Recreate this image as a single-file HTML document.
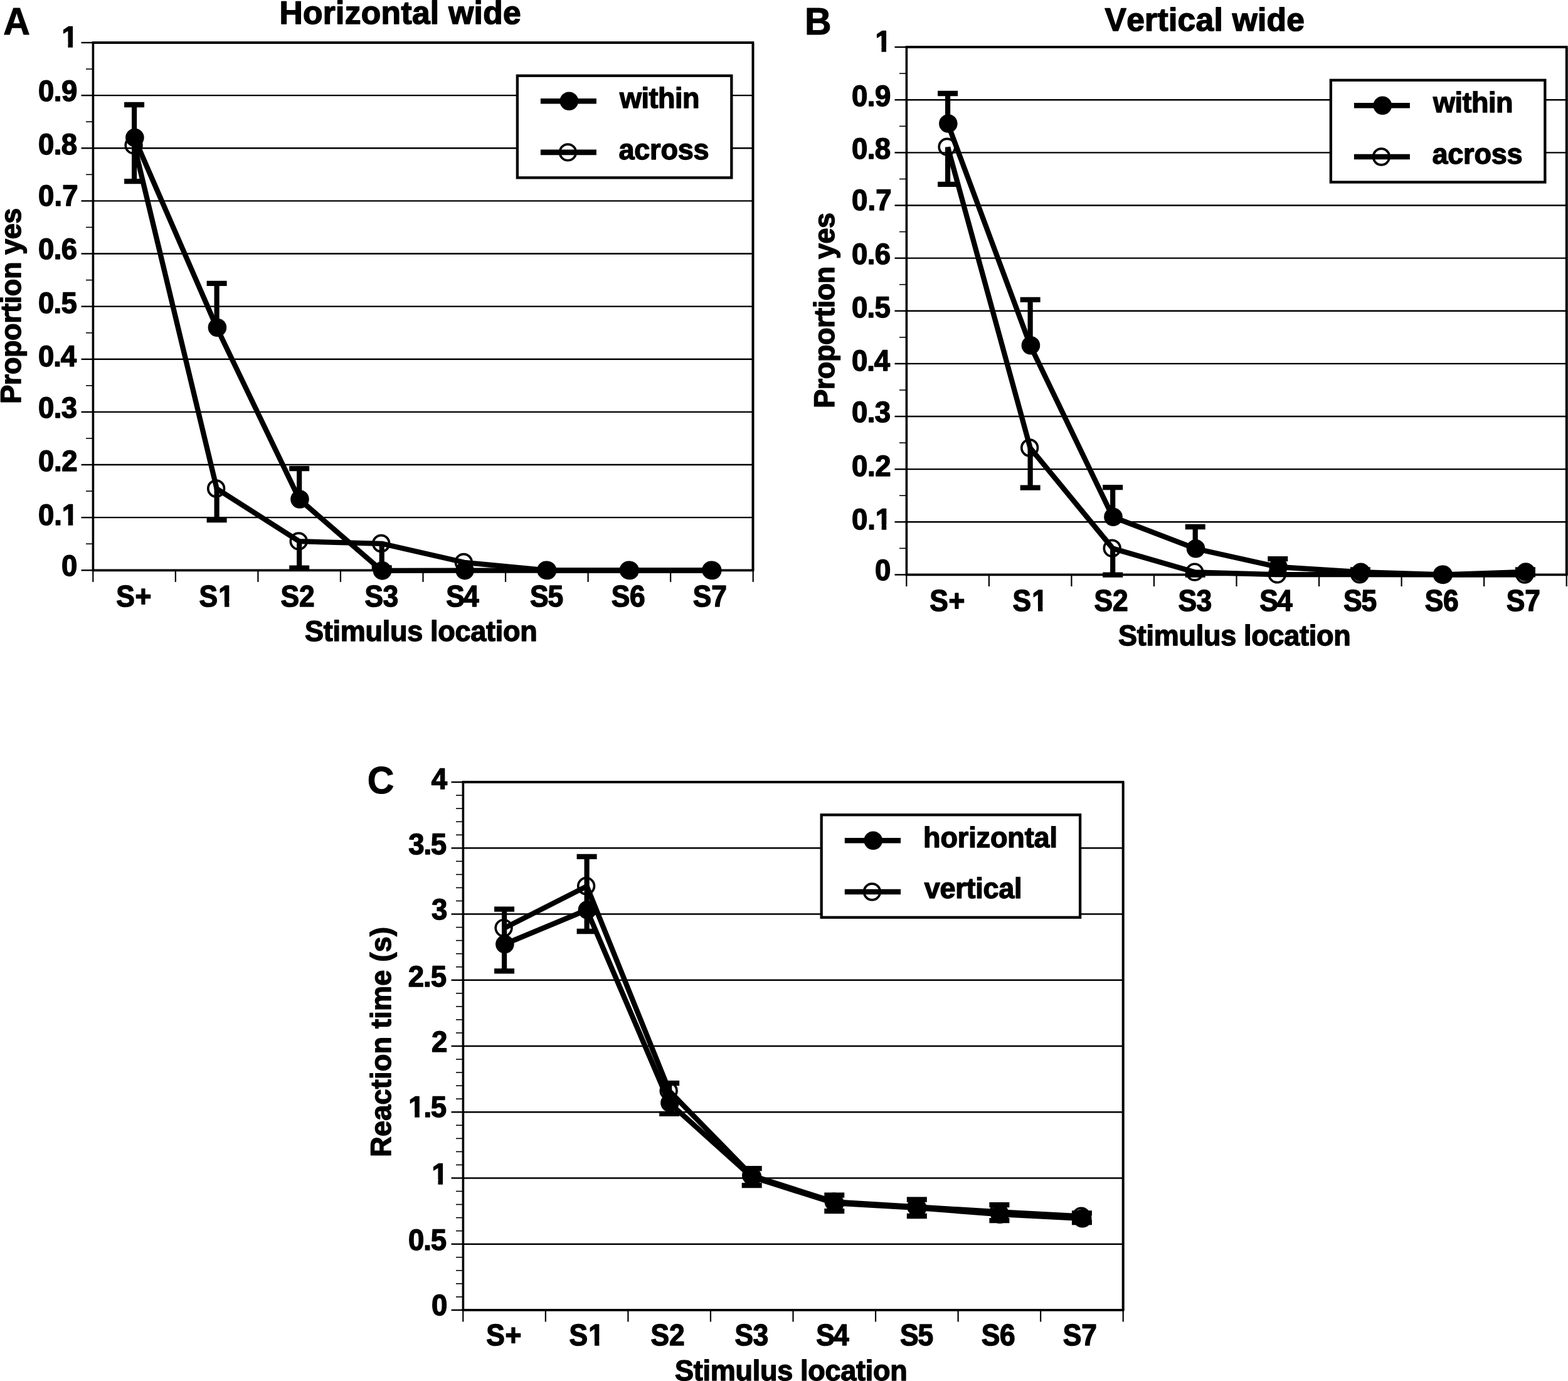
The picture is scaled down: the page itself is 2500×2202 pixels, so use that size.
<!DOCTYPE html>
<html lang="en">
<head>
<meta charset="utf-8">
<title>Figure</title>
<style>
html,body{margin:0;padding:0;background:#fff;}
body{width:2500px;height:2202px;overflow:hidden;}
svg{display:block;}
svg text{font-family:"Liberation Sans", "DejaVu Sans", sans-serif;font-weight:bold;fill:#000;stroke:#000;stroke-linejoin:round;font-kerning:none;text-rendering:geometricPrecision;white-space:pre;}
svg .k{stroke:#000;}
</style>
</head>
<body>
<svg width="2500" height="2202" viewBox="0 0 2500 2202">
<defs>
<clipPath id="c1"><path clip-rule="evenodd" d="M-20,-54.6H45.3V22.8H-20ZM1.17,-7.34H9.97V2.40H1.17ZM17.51,-7.34H25.74V2.40H17.51Z"/></clipPath>
<clipPath id="c2"><path clip-rule="evenodd" d="M-20,-54.6H83.1V22.8H-20ZM39.00,-7.34H47.81V2.40H39.00ZM55.35,-7.34H63.58V2.40H55.35Z"/></clipPath>
<clipPath id="c3"><path clip-rule="evenodd" d="M-20,-53.2H76.4V22.1H-20ZM31.75,-7.22H40.35V2.40H31.75ZM47.73,-7.22H55.76V2.40H47.73Z"/></clipPath>
<clipPath id="c4"><path clip-rule="evenodd" d="M-20,-54.6H45.3V22.8H-20ZM1.17,-7.34H9.97V2.40H1.17ZM17.51,-7.34H25.74V2.40H17.51Z"/></clipPath>
<clipPath id="c5"><path clip-rule="evenodd" d="M-20,-54.6H83.1V22.8H-20ZM39.00,-7.34H47.81V2.40H39.00ZM55.35,-7.34H63.58V2.40H55.35Z"/></clipPath>
<clipPath id="c6"><path clip-rule="evenodd" d="M-20,-53.2H76.4V22.1H-20ZM31.75,-7.22H40.35V2.40H31.75ZM47.73,-7.22H55.76V2.40H47.73Z"/></clipPath>
<clipPath id="c7"><path clip-rule="evenodd" d="M-20,-54.6H79.7V22.8H-20ZM1.17,-7.34H9.97V2.40H1.17ZM17.51,-7.34H25.74V2.40H17.51Z"/></clipPath>
<clipPath id="c8"><path clip-rule="evenodd" d="M-20,-54.6H45.3V22.8H-20ZM1.17,-7.34H9.97V2.40H1.17ZM17.51,-7.34H25.74V2.40H17.51Z"/></clipPath>
<clipPath id="c9"><path clip-rule="evenodd" d="M-20,-53.2H76.4V22.1H-20ZM31.75,-7.22H40.35V2.40H31.75ZM47.73,-7.22H55.76V2.40H47.73Z"/></clipPath>
</defs>
<g id="panel-a">
<line class="k" x1="148.40" y1="825.17" x2="1200.50" y2="825.17" stroke-width="2.4"/>
<line class="k" x1="148.40" y1="741.04" x2="1200.50" y2="741.04" stroke-width="2.4"/>
<line class="k" x1="148.40" y1="656.91" x2="1200.50" y2="656.91" stroke-width="2.4"/>
<line class="k" x1="148.40" y1="572.78" x2="1200.50" y2="572.78" stroke-width="2.4"/>
<line class="k" x1="148.40" y1="488.65" x2="1200.50" y2="488.65" stroke-width="2.4"/>
<line class="k" x1="148.40" y1="404.52" x2="1200.50" y2="404.52" stroke-width="2.4"/>
<line class="k" x1="148.40" y1="320.39" x2="1200.50" y2="320.39" stroke-width="2.4"/>
<line class="k" x1="148.40" y1="236.26" x2="1200.50" y2="236.26" stroke-width="2.4"/>
<line class="k" x1="148.40" y1="152.13" x2="1200.50" y2="152.13" stroke-width="2.4"/>
<line class="k" x1="129.50" y1="909.30" x2="148.40" y2="909.30" stroke-width="2.4"/>
<line class="k" x1="129.50" y1="825.17" x2="148.40" y2="825.17" stroke-width="2.4"/>
<line class="k" x1="129.50" y1="741.04" x2="148.40" y2="741.04" stroke-width="2.4"/>
<line class="k" x1="129.50" y1="656.91" x2="148.40" y2="656.91" stroke-width="2.4"/>
<line class="k" x1="129.50" y1="572.78" x2="148.40" y2="572.78" stroke-width="2.4"/>
<line class="k" x1="129.50" y1="488.65" x2="148.40" y2="488.65" stroke-width="2.4"/>
<line class="k" x1="129.50" y1="404.52" x2="148.40" y2="404.52" stroke-width="2.4"/>
<line class="k" x1="129.50" y1="320.39" x2="148.40" y2="320.39" stroke-width="2.4"/>
<line class="k" x1="129.50" y1="236.26" x2="148.40" y2="236.26" stroke-width="2.4"/>
<line class="k" x1="129.50" y1="152.13" x2="148.40" y2="152.13" stroke-width="2.4"/>
<line class="k" x1="129.50" y1="68.00" x2="148.40" y2="68.00" stroke-width="2.4"/>
<line class="k" x1="137.00" y1="867.23" x2="148.40" y2="867.23" stroke-width="1.6"/>
<line class="k" x1="137.00" y1="783.11" x2="148.40" y2="783.11" stroke-width="1.6"/>
<line class="k" x1="137.00" y1="698.97" x2="148.40" y2="698.97" stroke-width="1.6"/>
<line class="k" x1="137.00" y1="614.85" x2="148.40" y2="614.85" stroke-width="1.6"/>
<line class="k" x1="137.00" y1="530.71" x2="148.40" y2="530.71" stroke-width="1.6"/>
<line class="k" x1="137.00" y1="446.58" x2="148.40" y2="446.58" stroke-width="1.6"/>
<line class="k" x1="137.00" y1="362.45" x2="148.40" y2="362.45" stroke-width="1.6"/>
<line class="k" x1="137.00" y1="278.33" x2="148.40" y2="278.33" stroke-width="1.6"/>
<line class="k" x1="137.00" y1="194.19" x2="148.40" y2="194.19" stroke-width="1.6"/>
<line class="k" x1="137.00" y1="110.07" x2="148.40" y2="110.07" stroke-width="1.6"/>
<line class="k" x1="148.30" y1="909.30" x2="148.30" y2="927.90" stroke-width="2.2"/>
<line class="k" x1="279.85" y1="909.30" x2="279.85" y2="927.90" stroke-width="2.2"/>
<line class="k" x1="411.40" y1="909.30" x2="411.40" y2="927.90" stroke-width="2.2"/>
<line class="k" x1="542.95" y1="909.30" x2="542.95" y2="927.90" stroke-width="2.2"/>
<line class="k" x1="674.50" y1="909.30" x2="674.50" y2="927.90" stroke-width="2.2"/>
<line class="k" x1="806.05" y1="909.30" x2="806.05" y2="927.90" stroke-width="2.2"/>
<line class="k" x1="937.60" y1="909.30" x2="937.60" y2="927.90" stroke-width="2.2"/>
<line class="k" x1="1069.15" y1="909.30" x2="1069.15" y2="927.90" stroke-width="2.2"/>
<line class="k" x1="1200.70" y1="909.30" x2="1200.70" y2="927.90" stroke-width="2.2"/>
<line class="k" x1="146.60" y1="68.00" x2="1202.30" y2="68.00" stroke-width="4.0"/>
<line class="k" x1="146.60" y1="909.30" x2="1202.30" y2="909.30" stroke-width="3.8"/>
<line class="k" x1="148.40" y1="68.00" x2="148.40" y2="909.30" stroke-width="3.6"/>
<line class="k" x1="1200.50" y1="69.00" x2="1200.50" y2="909.30" stroke-width="4.0"/>
<rect class="k" x="824.85" y="120.75" width="341.50" height="162.60" fill="#fff" stroke-width="4.3"/>
<line class="k" x1="861.90" y1="161.20" x2="950.90" y2="161.20" stroke-width="8.600000000000001"/>
<circle cx="907.30" cy="161.20" r="14.8" fill="#000"/>
<circle class="k" cx="905.40" cy="242.90" r="12.85" fill="none" stroke-width="3.7"/>
<line class="k" x1="861.90" y1="242.90" x2="950.90" y2="242.90" stroke-width="8.600000000000001"/>
<circle class="k" cx="213.08" cy="231.70" r="12.85" fill="none" stroke-width="3.7"/>
<circle class="k" cx="344.62" cy="779.00" r="12.85" fill="none" stroke-width="3.7"/>
<circle class="k" cx="476.18" cy="862.90" r="12.85" fill="none" stroke-width="3.7"/>
<circle class="k" cx="607.73" cy="866.50" r="12.85" fill="none" stroke-width="3.7"/>
<circle class="k" cx="739.28" cy="896.50" r="12.85" fill="none" stroke-width="3.7"/>
<circle class="k" cx="870.83" cy="909.20" r="12.85" fill="none" stroke-width="3.7"/>
<circle class="k" cx="1002.38" cy="909.20" r="12.85" fill="none" stroke-width="3.7"/>
<circle class="k" cx="1133.93" cy="909.20" r="12.85" fill="none" stroke-width="3.7"/>
<line class="k" x1="214.08" y1="219.50" x2="214.08" y2="167.00" stroke-width="8.2"/>
<line class="k" x1="198.08" y1="167.00" x2="230.08" y2="167.00" stroke-width="8.3"/>
<line class="k" x1="214.08" y1="232.00" x2="214.08" y2="289.10" stroke-width="8.2"/>
<line class="k" x1="198.08" y1="289.10" x2="230.08" y2="289.10" stroke-width="8.3"/>
<line class="k" x1="345.62" y1="522.30" x2="345.62" y2="451.80" stroke-width="8.2"/>
<line class="k" x1="329.62" y1="451.80" x2="361.62" y2="451.80" stroke-width="8.3"/>
<line class="k" x1="345.62" y1="779.30" x2="345.62" y2="829.20" stroke-width="8.2"/>
<line class="k" x1="329.62" y1="829.20" x2="361.62" y2="829.20" stroke-width="8.3"/>
<line class="k" x1="477.18" y1="796.00" x2="477.18" y2="747.10" stroke-width="8.2"/>
<line class="k" x1="461.18" y1="747.10" x2="493.18" y2="747.10" stroke-width="8.3"/>
<line class="k" x1="477.18" y1="863.20" x2="477.18" y2="905.60" stroke-width="8.2"/>
<line class="k" x1="461.18" y1="905.60" x2="493.18" y2="905.60" stroke-width="8.3"/>
<line class="k" x1="608.73" y1="866.80" x2="608.73" y2="905.50" stroke-width="8.2"/>
<line class="k" x1="592.73" y1="905.50" x2="624.73" y2="905.50" stroke-width="8.3"/>
<polyline class="k" points="214.08,232.00 345.62,779.30 477.18,863.20 608.73,866.80 740.28,896.80 871.83,909.50 1003.38,909.50 1134.93,909.50" fill="none" stroke-width="8.3" stroke-linejoin="round"/>
<polyline class="k" points="214.08,219.50 345.62,522.30 477.18,796.00 608.73,909.90 740.28,909.60 871.83,909.50 1003.38,909.50 1134.93,909.50" fill="none" stroke-width="8.3" stroke-linejoin="round"/>
<circle cx="214.88" cy="219.50" r="14.8" fill="#000"/>
<circle cx="346.43" cy="522.30" r="14.8" fill="#000"/>
<circle cx="477.98" cy="796.00" r="14.8" fill="#000"/>
<circle cx="609.53" cy="909.90" r="14.8" fill="#000"/>
<circle cx="741.08" cy="909.60" r="14.8" fill="#000"/>
<circle cx="872.62" cy="909.50" r="14.8" fill="#000"/>
<circle cx="1004.17" cy="909.50" r="14.8" fill="#000"/>
<circle cx="1135.73" cy="909.50" r="14.8" fill="#000"/>
<text transform="translate(98.51,75.28) scale(1,1.035)" font-size="45.5" letter-spacing="0.000" stroke-width="1.4" clip-path="url(#c1)">1</text>
<text transform="translate(60.90,161.48) scale(1,1.035)" font-size="45.5" letter-spacing="-0.382" stroke-width="1.4">0.9</text>
<text transform="translate(60.90,246.38) scale(1,1.035)" font-size="45.5" letter-spacing="-0.526" stroke-width="1.4">0.8</text>
<text transform="translate(60.90,328.08) scale(1,1.035)" font-size="45.5" letter-spacing="0.174" stroke-width="1.4">0.7</text>
<text transform="translate(60.90,413.48) scale(1,1.035)" font-size="45.5" letter-spacing="-0.504" stroke-width="1.4">0.6</text>
<text transform="translate(60.90,498.78) scale(1,1.035)" font-size="45.5" letter-spacing="-0.693" stroke-width="1.4">0.5</text>
<text transform="translate(60.90,584.08) scale(1,1.035)" font-size="45.5" letter-spacing="-1.004" stroke-width="1.4">0.4</text>
<text transform="translate(60.90,666.08) scale(1,1.035)" font-size="45.5" letter-spacing="-0.504" stroke-width="1.4">0.3</text>
<text transform="translate(60.90,751.48) scale(1,1.035)" font-size="45.5" letter-spacing="-0.315" stroke-width="1.4">0.2</text>
<text transform="translate(60.90,836.78) scale(1,1.035)" font-size="45.5" letter-spacing="-0.055" stroke-width="1.4" clip-path="url(#c2)">0.1</text>
<text transform="translate(98.08,918.38) scale(1,1.035)" font-size="45.5" letter-spacing="0.000" stroke-width="1.4">0</text>
<text transform="translate(185.22,966.64) scale(1,1.08)" font-size="44.3" letter-spacing="0.853" stroke-width="1.4">S+</text>
<text transform="translate(317.62,966.64) scale(1,1.08)" font-size="44.3" letter-spacing="1.111" stroke-width="1.4" clip-path="url(#c3)">S1</text>
<text transform="translate(447.62,966.64) scale(1,1.08)" font-size="44.3" letter-spacing="-0.135" stroke-width="1.4">S2</text>
<text transform="translate(581.42,966.64) scale(1,1.08)" font-size="44.3" letter-spacing="-0.508" stroke-width="1.4">S3</text>
<text transform="translate(711.32,966.64) scale(1,1.08)" font-size="44.3" letter-spacing="-1.771" stroke-width="1.4">S4</text>
<text transform="translate(845.02,966.64) scale(1,1.08)" font-size="44.3" letter-spacing="-1.076" stroke-width="1.4">S5</text>
<text transform="translate(974.82,966.64) scale(1,1.08)" font-size="44.3" letter-spacing="-0.308" stroke-width="1.4">S6</text>
<text transform="translate(1104.72,966.64) scale(1,1.08)" font-size="44.3" letter-spacing="-0.062" stroke-width="1.4">S7</text>
<text transform="translate(987.93,171.69) scale(1,1.02)" font-size="45.0" letter-spacing="-0.502" stroke-width="1.4">within</text>
<text transform="translate(986.48,253.79) scale(1,1.02)" font-size="45.0" letter-spacing="-0.209" stroke-width="1.4">across</text>
<text transform="translate(486.10,1021.79) scale(1,1.02)" font-size="45.0" letter-spacing="-0.278" stroke-width="1.4">Stimulus location</text>
<text transform="translate(33.29,643.71) rotate(-90) scale(1,1.02)" font-size="45.0" letter-spacing="-0.430" stroke-width="1.4">Proportion yes</text>
<text transform="translate(445.40,37.85)" font-size="51.5" letter-spacing="0.333" stroke-width="1.5">Horizontal wide</text>
<text transform="translate(5.19,54.78) scale(1,1.032)" font-size="59.0" letter-spacing="0.000" stroke-width="1.0">A</text>
</g>
<g id="panel-b">
<line class="k" x1="1445.40" y1="832.27" x2="2497.80" y2="832.27" stroke-width="2.4"/>
<line class="k" x1="1445.40" y1="748.14" x2="2497.80" y2="748.14" stroke-width="2.4"/>
<line class="k" x1="1445.40" y1="664.01" x2="2497.80" y2="664.01" stroke-width="2.4"/>
<line class="k" x1="1445.40" y1="579.88" x2="2497.80" y2="579.88" stroke-width="2.4"/>
<line class="k" x1="1445.40" y1="495.75" x2="2497.80" y2="495.75" stroke-width="2.4"/>
<line class="k" x1="1445.40" y1="411.62" x2="2497.80" y2="411.62" stroke-width="2.4"/>
<line class="k" x1="1445.40" y1="327.49" x2="2497.80" y2="327.49" stroke-width="2.4"/>
<line class="k" x1="1445.40" y1="243.36" x2="2497.80" y2="243.36" stroke-width="2.4"/>
<line class="k" x1="1445.40" y1="159.23" x2="2497.80" y2="159.23" stroke-width="2.4"/>
<line class="k" x1="1426.50" y1="916.40" x2="1445.40" y2="916.40" stroke-width="2.4"/>
<line class="k" x1="1426.50" y1="832.27" x2="1445.40" y2="832.27" stroke-width="2.4"/>
<line class="k" x1="1426.50" y1="748.14" x2="1445.40" y2="748.14" stroke-width="2.4"/>
<line class="k" x1="1426.50" y1="664.01" x2="1445.40" y2="664.01" stroke-width="2.4"/>
<line class="k" x1="1426.50" y1="579.88" x2="1445.40" y2="579.88" stroke-width="2.4"/>
<line class="k" x1="1426.50" y1="495.75" x2="1445.40" y2="495.75" stroke-width="2.4"/>
<line class="k" x1="1426.50" y1="411.62" x2="1445.40" y2="411.62" stroke-width="2.4"/>
<line class="k" x1="1426.50" y1="327.49" x2="1445.40" y2="327.49" stroke-width="2.4"/>
<line class="k" x1="1426.50" y1="243.36" x2="1445.40" y2="243.36" stroke-width="2.4"/>
<line class="k" x1="1426.50" y1="159.23" x2="1445.40" y2="159.23" stroke-width="2.4"/>
<line class="k" x1="1426.50" y1="75.10" x2="1445.40" y2="75.10" stroke-width="2.4"/>
<line class="k" x1="1434.00" y1="874.34" x2="1445.40" y2="874.34" stroke-width="1.6"/>
<line class="k" x1="1434.00" y1="790.20" x2="1445.40" y2="790.20" stroke-width="1.6"/>
<line class="k" x1="1434.00" y1="706.08" x2="1445.40" y2="706.08" stroke-width="1.6"/>
<line class="k" x1="1434.00" y1="621.94" x2="1445.40" y2="621.94" stroke-width="1.6"/>
<line class="k" x1="1434.00" y1="537.82" x2="1445.40" y2="537.82" stroke-width="1.6"/>
<line class="k" x1="1434.00" y1="453.69" x2="1445.40" y2="453.69" stroke-width="1.6"/>
<line class="k" x1="1434.00" y1="369.55" x2="1445.40" y2="369.55" stroke-width="1.6"/>
<line class="k" x1="1434.00" y1="285.43" x2="1445.40" y2="285.43" stroke-width="1.6"/>
<line class="k" x1="1434.00" y1="201.29" x2="1445.40" y2="201.29" stroke-width="1.6"/>
<line class="k" x1="1434.00" y1="117.17" x2="1445.40" y2="117.17" stroke-width="1.6"/>
<line class="k" x1="1445.30" y1="916.40" x2="1445.30" y2="935.00" stroke-width="2.2"/>
<line class="k" x1="1576.85" y1="916.40" x2="1576.85" y2="935.00" stroke-width="2.2"/>
<line class="k" x1="1708.40" y1="916.40" x2="1708.40" y2="935.00" stroke-width="2.2"/>
<line class="k" x1="1839.95" y1="916.40" x2="1839.95" y2="935.00" stroke-width="2.2"/>
<line class="k" x1="1971.50" y1="916.40" x2="1971.50" y2="935.00" stroke-width="2.2"/>
<line class="k" x1="2103.05" y1="916.40" x2="2103.05" y2="935.00" stroke-width="2.2"/>
<line class="k" x1="2234.60" y1="916.40" x2="2234.60" y2="935.00" stroke-width="2.2"/>
<line class="k" x1="2366.15" y1="916.40" x2="2366.15" y2="935.00" stroke-width="2.2"/>
<line class="k" x1="2497.70" y1="916.40" x2="2497.70" y2="935.00" stroke-width="2.2"/>
<line class="k" x1="1443.60" y1="75.10" x2="2499.60" y2="75.10" stroke-width="4.0"/>
<line class="k" x1="1443.60" y1="916.40" x2="2499.60" y2="916.40" stroke-width="3.8"/>
<line class="k" x1="1445.40" y1="75.10" x2="1445.40" y2="916.40" stroke-width="3.6"/>
<line class="k" x1="2497.80" y1="76.10" x2="2497.80" y2="916.40" stroke-width="4.0"/>
<rect class="k" x="2121.85" y="127.85" width="341.50" height="162.60" fill="#fff" stroke-width="4.3"/>
<line class="k" x1="2158.90" y1="168.30" x2="2247.90" y2="168.30" stroke-width="8.600000000000001"/>
<circle cx="2204.30" cy="168.30" r="14.8" fill="#000"/>
<circle class="k" cx="2202.40" cy="250.00" r="12.85" fill="none" stroke-width="3.7"/>
<line class="k" x1="2158.90" y1="250.00" x2="2247.90" y2="250.00" stroke-width="8.600000000000001"/>
<circle class="k" cx="1510.08" cy="234.20" r="12.85" fill="none" stroke-width="3.7"/>
<circle class="k" cx="1641.63" cy="714.00" r="12.85" fill="none" stroke-width="3.7"/>
<circle class="k" cx="1773.18" cy="874.20" r="12.85" fill="none" stroke-width="3.7"/>
<circle class="k" cx="1904.73" cy="912.10" r="12.85" fill="none" stroke-width="3.7"/>
<circle class="k" cx="2036.28" cy="915.90" r="12.85" fill="none" stroke-width="3.7"/>
<circle class="k" cx="2167.83" cy="915.90" r="12.85" fill="none" stroke-width="3.7"/>
<circle class="k" cx="2299.38" cy="916.20" r="12.85" fill="none" stroke-width="3.7"/>
<circle class="k" cx="2430.93" cy="916.00" r="12.85" fill="none" stroke-width="3.7"/>
<line class="k" x1="1511.08" y1="197.00" x2="1511.08" y2="149.00" stroke-width="8.2"/>
<line class="k" x1="1495.08" y1="149.00" x2="1527.08" y2="149.00" stroke-width="8.3"/>
<line class="k" x1="1511.08" y1="234.50" x2="1511.08" y2="293.80" stroke-width="8.2"/>
<line class="k" x1="1495.08" y1="293.80" x2="1527.08" y2="293.80" stroke-width="8.3"/>
<line class="k" x1="1642.63" y1="550.70" x2="1642.63" y2="477.90" stroke-width="8.2"/>
<line class="k" x1="1626.63" y1="477.90" x2="1658.63" y2="477.90" stroke-width="8.3"/>
<line class="k" x1="1642.63" y1="714.30" x2="1642.63" y2="777.70" stroke-width="8.2"/>
<line class="k" x1="1626.63" y1="777.70" x2="1658.63" y2="777.70" stroke-width="8.3"/>
<line class="k" x1="1774.18" y1="824.30" x2="1774.18" y2="777.10" stroke-width="8.2"/>
<line class="k" x1="1758.18" y1="777.10" x2="1790.18" y2="777.10" stroke-width="8.3"/>
<line class="k" x1="1774.18" y1="874.50" x2="1774.18" y2="916.60" stroke-width="8.2"/>
<line class="k" x1="1758.18" y1="916.60" x2="1790.18" y2="916.60" stroke-width="8.3"/>
<line class="k" x1="1905.73" y1="874.70" x2="1905.73" y2="840.00" stroke-width="8.2"/>
<line class="k" x1="1889.73" y1="840.00" x2="1921.73" y2="840.00" stroke-width="8.3"/>
<line class="k" x1="1905.73" y1="912.40" x2="1905.73" y2="916.50" stroke-width="8.2"/>
<line class="k" x1="1889.73" y1="916.50" x2="1921.73" y2="916.50" stroke-width="8.3"/>
<line class="k" x1="2037.28" y1="904.00" x2="2037.28" y2="891.20" stroke-width="8.2"/>
<line class="k" x1="2021.28" y1="891.20" x2="2053.28" y2="891.20" stroke-width="8.3"/>
<line class="k" x1="2168.83" y1="912.20" x2="2168.83" y2="908.50" stroke-width="8.2"/>
<line class="k" x1="2152.83" y1="908.50" x2="2184.83" y2="908.50" stroke-width="8.3"/>
<line class="k" x1="2431.93" y1="912.00" x2="2431.93" y2="908.50" stroke-width="8.2"/>
<line class="k" x1="2415.93" y1="908.50" x2="2447.93" y2="908.50" stroke-width="8.3"/>
<line class="k" x1="2431.93" y1="916.30" x2="2431.93" y2="916.40" stroke-width="8.2"/>
<line class="k" x1="2415.93" y1="916.40" x2="2447.93" y2="916.40" stroke-width="8.3"/>
<polyline class="k" points="1511.08,234.50 1642.63,714.30 1774.18,874.50 1905.73,912.40 2037.28,916.20 2168.83,916.20 2300.38,916.50 2431.93,916.30" fill="none" stroke-width="8.3" stroke-linejoin="round"/>
<polyline class="k" points="1511.08,197.00 1642.63,550.70 1774.18,824.30 1905.73,874.70 2037.28,904.00 2168.83,912.20 2300.38,916.40 2431.93,912.00" fill="none" stroke-width="8.3" stroke-linejoin="round"/>
<circle cx="1511.88" cy="197.00" r="14.8" fill="#000"/>
<circle cx="1643.43" cy="550.70" r="14.8" fill="#000"/>
<circle cx="1774.98" cy="824.30" r="14.8" fill="#000"/>
<circle cx="1906.53" cy="874.70" r="14.8" fill="#000"/>
<circle cx="2038.08" cy="904.00" r="14.8" fill="#000"/>
<circle cx="2169.63" cy="912.20" r="14.8" fill="#000"/>
<circle cx="2301.18" cy="916.40" r="14.8" fill="#000"/>
<circle cx="2432.73" cy="912.00" r="14.8" fill="#000"/>
<text transform="translate(1395.51,82.38) scale(1,1.035)" font-size="45.5" letter-spacing="0.000" stroke-width="1.4" clip-path="url(#c4)">1</text>
<text transform="translate(1357.90,168.58) scale(1,1.035)" font-size="45.5" letter-spacing="-0.382" stroke-width="1.4">0.9</text>
<text transform="translate(1357.90,253.48) scale(1,1.035)" font-size="45.5" letter-spacing="-0.526" stroke-width="1.4">0.8</text>
<text transform="translate(1357.90,335.18) scale(1,1.035)" font-size="45.5" letter-spacing="0.174" stroke-width="1.4">0.7</text>
<text transform="translate(1357.90,420.58) scale(1,1.035)" font-size="45.5" letter-spacing="-0.504" stroke-width="1.4">0.6</text>
<text transform="translate(1357.90,505.88) scale(1,1.035)" font-size="45.5" letter-spacing="-0.693" stroke-width="1.4">0.5</text>
<text transform="translate(1357.90,591.18) scale(1,1.035)" font-size="45.5" letter-spacing="-1.004" stroke-width="1.4">0.4</text>
<text transform="translate(1357.90,673.18) scale(1,1.035)" font-size="45.5" letter-spacing="-0.504" stroke-width="1.4">0.3</text>
<text transform="translate(1357.90,758.58) scale(1,1.035)" font-size="45.5" letter-spacing="-0.315" stroke-width="1.4">0.2</text>
<text transform="translate(1357.90,843.88) scale(1,1.035)" font-size="45.5" letter-spacing="-0.055" stroke-width="1.4" clip-path="url(#c5)">0.1</text>
<text transform="translate(1395.08,925.48) scale(1,1.035)" font-size="45.5" letter-spacing="0.000" stroke-width="1.4">0</text>
<text transform="translate(1482.22,973.74) scale(1,1.08)" font-size="44.3" letter-spacing="0.853" stroke-width="1.4">S+</text>
<text transform="translate(1614.62,973.74) scale(1,1.08)" font-size="44.3" letter-spacing="1.111" stroke-width="1.4" clip-path="url(#c6)">S1</text>
<text transform="translate(1744.62,973.74) scale(1,1.08)" font-size="44.3" letter-spacing="-0.135" stroke-width="1.4">S2</text>
<text transform="translate(1878.42,973.74) scale(1,1.08)" font-size="44.3" letter-spacing="-0.508" stroke-width="1.4">S3</text>
<text transform="translate(2008.32,973.74) scale(1,1.08)" font-size="44.3" letter-spacing="-1.771" stroke-width="1.4">S4</text>
<text transform="translate(2142.02,973.74) scale(1,1.08)" font-size="44.3" letter-spacing="-1.076" stroke-width="1.4">S5</text>
<text transform="translate(2271.82,973.74) scale(1,1.08)" font-size="44.3" letter-spacing="-0.308" stroke-width="1.4">S6</text>
<text transform="translate(2401.72,973.74) scale(1,1.08)" font-size="44.3" letter-spacing="-0.062" stroke-width="1.4">S7</text>
<text transform="translate(2284.93,178.79) scale(1,1.02)" font-size="45.0" letter-spacing="-0.502" stroke-width="1.4">within</text>
<text transform="translate(2283.48,260.89) scale(1,1.02)" font-size="45.0" letter-spacing="-0.209" stroke-width="1.4">across</text>
<text transform="translate(1783.10,1028.89) scale(1,1.02)" font-size="45.0" letter-spacing="-0.278" stroke-width="1.4">Stimulus location</text>
<text transform="translate(1330.29,650.81) rotate(-90) scale(1,1.02)" font-size="45.0" letter-spacing="-0.430" stroke-width="1.4">Proportion yes</text>
<text transform="translate(1761.50,48.95)" font-size="51.5" letter-spacing="0.304" stroke-width="1.5">Vertical wide</text>
<text transform="translate(1282.96,54.88) scale(1,1.032)" font-size="59.0" letter-spacing="0.000" stroke-width="1.0">B</text>
</g>
<g id="panel-c">
<line class="k" x1="738.40" y1="1983.68" x2="1790.70" y2="1983.68" stroke-width="2.4"/>
<line class="k" x1="738.40" y1="1878.45" x2="1790.70" y2="1878.45" stroke-width="2.4"/>
<line class="k" x1="738.40" y1="1773.22" x2="1790.70" y2="1773.22" stroke-width="2.4"/>
<line class="k" x1="738.40" y1="1668.00" x2="1790.70" y2="1668.00" stroke-width="2.4"/>
<line class="k" x1="738.40" y1="1562.78" x2="1790.70" y2="1562.78" stroke-width="2.4"/>
<line class="k" x1="738.40" y1="1457.55" x2="1790.70" y2="1457.55" stroke-width="2.4"/>
<line class="k" x1="738.40" y1="1352.32" x2="1790.70" y2="1352.32" stroke-width="2.4"/>
<line class="k" x1="719.50" y1="2088.90" x2="738.40" y2="2088.90" stroke-width="2.4"/>
<line class="k" x1="719.50" y1="1983.68" x2="738.40" y2="1983.68" stroke-width="2.4"/>
<line class="k" x1="719.50" y1="1878.45" x2="738.40" y2="1878.45" stroke-width="2.4"/>
<line class="k" x1="719.50" y1="1773.22" x2="738.40" y2="1773.22" stroke-width="2.4"/>
<line class="k" x1="719.50" y1="1668.00" x2="738.40" y2="1668.00" stroke-width="2.4"/>
<line class="k" x1="719.50" y1="1562.78" x2="738.40" y2="1562.78" stroke-width="2.4"/>
<line class="k" x1="719.50" y1="1457.55" x2="738.40" y2="1457.55" stroke-width="2.4"/>
<line class="k" x1="719.50" y1="1352.32" x2="738.40" y2="1352.32" stroke-width="2.4"/>
<line class="k" x1="719.50" y1="1247.10" x2="738.40" y2="1247.10" stroke-width="2.4"/>
<line class="k" x1="727.00" y1="2067.86" x2="738.40" y2="2067.86" stroke-width="1.6"/>
<line class="k" x1="727.00" y1="2046.81" x2="738.40" y2="2046.81" stroke-width="1.6"/>
<line class="k" x1="727.00" y1="2025.77" x2="738.40" y2="2025.77" stroke-width="1.6"/>
<line class="k" x1="727.00" y1="2004.72" x2="738.40" y2="2004.72" stroke-width="1.6"/>
<line class="k" x1="727.00" y1="1962.63" x2="738.40" y2="1962.63" stroke-width="1.6"/>
<line class="k" x1="727.00" y1="1941.59" x2="738.40" y2="1941.59" stroke-width="1.6"/>
<line class="k" x1="727.00" y1="1920.54" x2="738.40" y2="1920.54" stroke-width="1.6"/>
<line class="k" x1="727.00" y1="1899.50" x2="738.40" y2="1899.50" stroke-width="1.6"/>
<line class="k" x1="727.00" y1="1857.40" x2="738.40" y2="1857.40" stroke-width="1.6"/>
<line class="k" x1="727.00" y1="1836.36" x2="738.40" y2="1836.36" stroke-width="1.6"/>
<line class="k" x1="727.00" y1="1815.32" x2="738.40" y2="1815.32" stroke-width="1.6"/>
<line class="k" x1="727.00" y1="1794.27" x2="738.40" y2="1794.27" stroke-width="1.6"/>
<line class="k" x1="727.00" y1="1752.18" x2="738.40" y2="1752.18" stroke-width="1.6"/>
<line class="k" x1="727.00" y1="1731.13" x2="738.40" y2="1731.13" stroke-width="1.6"/>
<line class="k" x1="727.00" y1="1710.09" x2="738.40" y2="1710.09" stroke-width="1.6"/>
<line class="k" x1="727.00" y1="1689.05" x2="738.40" y2="1689.05" stroke-width="1.6"/>
<line class="k" x1="727.00" y1="1646.95" x2="738.40" y2="1646.95" stroke-width="1.6"/>
<line class="k" x1="727.00" y1="1625.91" x2="738.40" y2="1625.91" stroke-width="1.6"/>
<line class="k" x1="727.00" y1="1604.87" x2="738.40" y2="1604.87" stroke-width="1.6"/>
<line class="k" x1="727.00" y1="1583.82" x2="738.40" y2="1583.82" stroke-width="1.6"/>
<line class="k" x1="727.00" y1="1541.73" x2="738.40" y2="1541.73" stroke-width="1.6"/>
<line class="k" x1="727.00" y1="1520.68" x2="738.40" y2="1520.68" stroke-width="1.6"/>
<line class="k" x1="727.00" y1="1499.64" x2="738.40" y2="1499.64" stroke-width="1.6"/>
<line class="k" x1="727.00" y1="1478.60" x2="738.40" y2="1478.60" stroke-width="1.6"/>
<line class="k" x1="727.00" y1="1436.50" x2="738.40" y2="1436.50" stroke-width="1.6"/>
<line class="k" x1="727.00" y1="1415.46" x2="738.40" y2="1415.46" stroke-width="1.6"/>
<line class="k" x1="727.00" y1="1394.41" x2="738.40" y2="1394.41" stroke-width="1.6"/>
<line class="k" x1="727.00" y1="1373.37" x2="738.40" y2="1373.37" stroke-width="1.6"/>
<line class="k" x1="727.00" y1="1331.28" x2="738.40" y2="1331.28" stroke-width="1.6"/>
<line class="k" x1="727.00" y1="1310.23" x2="738.40" y2="1310.23" stroke-width="1.6"/>
<line class="k" x1="727.00" y1="1289.19" x2="738.40" y2="1289.19" stroke-width="1.6"/>
<line class="k" x1="727.00" y1="1268.14" x2="738.40" y2="1268.14" stroke-width="1.6"/>
<line class="k" x1="738.30" y1="2088.90" x2="738.30" y2="2107.50" stroke-width="2.2"/>
<line class="k" x1="869.85" y1="2088.90" x2="869.85" y2="2107.50" stroke-width="2.2"/>
<line class="k" x1="1001.40" y1="2088.90" x2="1001.40" y2="2107.50" stroke-width="2.2"/>
<line class="k" x1="1132.95" y1="2088.90" x2="1132.95" y2="2107.50" stroke-width="2.2"/>
<line class="k" x1="1264.50" y1="2088.90" x2="1264.50" y2="2107.50" stroke-width="2.2"/>
<line class="k" x1="1396.05" y1="2088.90" x2="1396.05" y2="2107.50" stroke-width="2.2"/>
<line class="k" x1="1527.60" y1="2088.90" x2="1527.60" y2="2107.50" stroke-width="2.2"/>
<line class="k" x1="1659.15" y1="2088.90" x2="1659.15" y2="2107.50" stroke-width="2.2"/>
<line class="k" x1="1790.70" y1="2088.90" x2="1790.70" y2="2107.50" stroke-width="2.2"/>
<line class="k" x1="736.60" y1="1247.10" x2="1792.50" y2="1247.10" stroke-width="4.0"/>
<line class="k" x1="736.60" y1="2088.90" x2="1792.50" y2="2088.90" stroke-width="3.8"/>
<line class="k" x1="738.40" y1="1247.10" x2="738.40" y2="2088.90" stroke-width="3.6"/>
<line class="k" x1="1790.70" y1="1248.10" x2="1790.70" y2="2088.90" stroke-width="4.0"/>
<rect class="k" x="1309.70" y="1299.30" width="412.40" height="163.50" fill="#fff" stroke-width="4.3"/>
<line class="k" x1="1346.80" y1="1340.20" x2="1436.00" y2="1340.20" stroke-width="8.600000000000001"/>
<circle cx="1392.20" cy="1340.20" r="14.8" fill="#000"/>
<circle class="k" cx="1390.40" cy="1422.00" r="12.85" fill="none" stroke-width="3.7"/>
<line class="k" x1="1346.80" y1="1422.00" x2="1436.00" y2="1422.00" stroke-width="8.600000000000001"/>
<circle class="k" cx="803.07" cy="1479.60" r="12.85" fill="none" stroke-width="3.7"/>
<circle class="k" cx="934.62" cy="1412.80" r="12.85" fill="none" stroke-width="3.7"/>
<circle class="k" cx="1066.17" cy="1739.30" r="12.85" fill="none" stroke-width="3.7"/>
<circle class="k" cx="1197.72" cy="1874.20" r="12.85" fill="none" stroke-width="3.7"/>
<circle class="k" cx="1329.28" cy="1916.20" r="12.85" fill="none" stroke-width="3.7"/>
<circle class="k" cx="1460.83" cy="1924.20" r="12.85" fill="none" stroke-width="3.7"/>
<circle class="k" cx="1592.38" cy="1932.20" r="12.85" fill="none" stroke-width="3.7"/>
<circle class="k" cx="1723.93" cy="1939.10" r="12.85" fill="none" stroke-width="3.7"/>
<line class="k" x1="804.07" y1="1479.90" x2="804.07" y2="1449.60" stroke-width="8.2"/>
<line class="k" x1="788.07" y1="1449.60" x2="820.07" y2="1449.60" stroke-width="8.3"/>
<line class="k" x1="804.07" y1="1479.90" x2="804.07" y2="1505.60" stroke-width="8.2"/>
<line class="k" x1="804.07" y1="1505.60" x2="804.07" y2="1548.30" stroke-width="8.2"/>
<line class="k" x1="788.07" y1="1548.30" x2="820.07" y2="1548.30" stroke-width="8.3"/>
<line class="k" x1="935.62" y1="1413.10" x2="935.62" y2="1365.80" stroke-width="8.2"/>
<line class="k" x1="919.62" y1="1365.80" x2="951.62" y2="1365.80" stroke-width="8.3"/>
<line class="k" x1="935.62" y1="1413.10" x2="935.62" y2="1450.90" stroke-width="8.2"/>
<line class="k" x1="935.62" y1="1450.90" x2="935.62" y2="1485.00" stroke-width="8.2"/>
<line class="k" x1="919.62" y1="1485.00" x2="951.62" y2="1485.00" stroke-width="8.3"/>
<line class="k" x1="1067.17" y1="1739.60" x2="1067.17" y2="1727.10" stroke-width="8.2"/>
<line class="k" x1="1051.17" y1="1727.10" x2="1083.17" y2="1727.10" stroke-width="8.3"/>
<line class="k" x1="1067.17" y1="1739.60" x2="1067.17" y2="1758.50" stroke-width="8.2"/>
<line class="k" x1="1067.17" y1="1758.50" x2="1067.17" y2="1775.80" stroke-width="8.2"/>
<line class="k" x1="1051.17" y1="1775.80" x2="1083.17" y2="1775.80" stroke-width="8.3"/>
<line class="k" x1="1198.72" y1="1874.50" x2="1198.72" y2="1863.20" stroke-width="8.2"/>
<line class="k" x1="1182.72" y1="1863.20" x2="1214.72" y2="1863.20" stroke-width="8.3"/>
<line class="k" x1="1198.72" y1="1874.50" x2="1198.72" y2="1876.60" stroke-width="8.2"/>
<line class="k" x1="1198.72" y1="1876.60" x2="1198.72" y2="1890.10" stroke-width="8.2"/>
<line class="k" x1="1182.72" y1="1890.10" x2="1214.72" y2="1890.10" stroke-width="8.3"/>
<line class="k" x1="1330.28" y1="1916.50" x2="1330.28" y2="1905.60" stroke-width="8.2"/>
<line class="k" x1="1314.28" y1="1905.60" x2="1346.28" y2="1905.60" stroke-width="8.3"/>
<line class="k" x1="1330.28" y1="1916.50" x2="1330.28" y2="1918.40" stroke-width="8.2"/>
<line class="k" x1="1330.28" y1="1918.40" x2="1330.28" y2="1931.10" stroke-width="8.2"/>
<line class="k" x1="1314.28" y1="1931.10" x2="1346.28" y2="1931.10" stroke-width="8.3"/>
<line class="k" x1="1461.83" y1="1924.50" x2="1461.83" y2="1912.70" stroke-width="8.2"/>
<line class="k" x1="1445.83" y1="1912.70" x2="1477.83" y2="1912.70" stroke-width="8.3"/>
<line class="k" x1="1461.83" y1="1924.50" x2="1461.83" y2="1925.90" stroke-width="8.2"/>
<line class="k" x1="1461.83" y1="1925.90" x2="1461.83" y2="1939.00" stroke-width="8.2"/>
<line class="k" x1="1445.83" y1="1939.00" x2="1477.83" y2="1939.00" stroke-width="8.3"/>
<line class="k" x1="1593.38" y1="1932.50" x2="1593.38" y2="1921.20" stroke-width="8.2"/>
<line class="k" x1="1577.38" y1="1921.20" x2="1609.38" y2="1921.20" stroke-width="8.3"/>
<line class="k" x1="1593.38" y1="1932.50" x2="1593.38" y2="1936.20" stroke-width="8.2"/>
<line class="k" x1="1593.38" y1="1936.20" x2="1593.38" y2="1946.10" stroke-width="8.2"/>
<line class="k" x1="1577.38" y1="1946.10" x2="1609.38" y2="1946.10" stroke-width="8.3"/>
<line class="k" x1="1724.93" y1="1939.40" x2="1724.93" y2="1934.40" stroke-width="8.2"/>
<line class="k" x1="1708.93" y1="1934.40" x2="1740.93" y2="1934.40" stroke-width="8.3"/>
<line class="k" x1="1724.93" y1="1939.40" x2="1724.93" y2="1942.80" stroke-width="8.2"/>
<line class="k" x1="1724.93" y1="1942.80" x2="1724.93" y2="1949.20" stroke-width="8.2"/>
<line class="k" x1="1708.93" y1="1949.20" x2="1740.93" y2="1949.20" stroke-width="8.3"/>
<polyline class="k" points="804.07,1479.90 935.62,1413.10 1067.17,1739.60 1198.72,1874.50 1330.28,1916.50 1461.83,1924.50 1593.38,1932.50 1724.93,1939.40" fill="none" stroke-width="8.3" stroke-linejoin="round"/>
<polyline class="k" points="804.07,1505.60 935.62,1450.90 1067.17,1758.50 1198.72,1876.60 1330.28,1918.40 1461.83,1925.90 1593.38,1936.20 1724.93,1942.80" fill="none" stroke-width="8.3" stroke-linejoin="round"/>
<circle cx="804.87" cy="1505.60" r="14.8" fill="#000"/>
<circle cx="936.42" cy="1450.90" r="14.8" fill="#000"/>
<circle cx="1067.97" cy="1758.50" r="14.8" fill="#000"/>
<circle cx="1199.52" cy="1876.60" r="14.8" fill="#000"/>
<circle cx="1331.08" cy="1918.40" r="14.8" fill="#000"/>
<circle cx="1462.62" cy="1925.90" r="14.8" fill="#000"/>
<circle cx="1594.17" cy="1936.20" r="14.8" fill="#000"/>
<circle cx="1725.73" cy="1942.80" r="14.8" fill="#000"/>
<text transform="translate(687.68,1257.58) scale(1,1.035)" font-size="45.5" letter-spacing="0.000" stroke-width="1.4">4</text>
<text transform="translate(651.26,1362.48) scale(1,1.035)" font-size="45.5" letter-spacing="-1.170" stroke-width="1.4">3.5</text>
<text transform="translate(688.10,1466.08) scale(1,1.035)" font-size="45.5" letter-spacing="0.000" stroke-width="1.4">3</text>
<text transform="translate(650.72,1573.48) scale(1,1.035)" font-size="45.5" letter-spacing="-0.904" stroke-width="1.4">2.5</text>
<text transform="translate(688.12,1677.18) scale(1,1.035)" font-size="45.5" letter-spacing="0.000" stroke-width="1.4">2</text>
<text transform="translate(651.29,1781.48) scale(1,1.035)" font-size="45.5" letter-spacing="-1.187" stroke-width="1.4" clip-path="url(#c7)">1.5</text>
<text transform="translate(688.51,1888.28) scale(1,1.035)" font-size="45.5" letter-spacing="0.000" stroke-width="1.4" clip-path="url(#c8)">1</text>
<text transform="translate(650.90,1993.08) scale(1,1.035)" font-size="45.5" letter-spacing="-0.993" stroke-width="1.4">0.5</text>
<text transform="translate(688.08,2097.08) scale(1,1.035)" font-size="45.5" letter-spacing="0.000" stroke-width="1.4">0</text>
<text transform="translate(775.22,2144.94) scale(1,1.08)" font-size="44.3" letter-spacing="0.853" stroke-width="1.4">S+</text>
<text transform="translate(907.62,2144.94) scale(1,1.08)" font-size="44.3" letter-spacing="1.111" stroke-width="1.4" clip-path="url(#c9)">S1</text>
<text transform="translate(1037.62,2144.94) scale(1,1.08)" font-size="44.3" letter-spacing="-0.135" stroke-width="1.4">S2</text>
<text transform="translate(1171.42,2144.94) scale(1,1.08)" font-size="44.3" letter-spacing="-0.508" stroke-width="1.4">S3</text>
<text transform="translate(1301.32,2144.94) scale(1,1.08)" font-size="44.3" letter-spacing="-1.771" stroke-width="1.4">S4</text>
<text transform="translate(1435.02,2144.94) scale(1,1.08)" font-size="44.3" letter-spacing="-1.076" stroke-width="1.4">S5</text>
<text transform="translate(1564.82,2144.94) scale(1,1.08)" font-size="44.3" letter-spacing="-0.308" stroke-width="1.4">S6</text>
<text transform="translate(1694.72,2144.94) scale(1,1.08)" font-size="44.3" letter-spacing="-0.062" stroke-width="1.4">S7</text>
<text transform="translate(1472.06,1350.89) scale(1,1.02)" font-size="45.0" letter-spacing="-0.128" stroke-width="1.4">horizontal</text>
<text transform="translate(1473.72,1431.69) scale(1,1.02)" font-size="45.0" letter-spacing="-0.278" stroke-width="1.4">vertical</text>
<text transform="translate(1076.10,2200.89) scale(1,1.02)" font-size="45.0" letter-spacing="-0.278" stroke-width="1.4">Stimulus location</text>
<text transform="translate(622.89,1844.81) rotate(-90) scale(1,1.02)" font-size="45.0" letter-spacing="0.261" stroke-width="1.4">Reaction time (s)</text>
<text transform="translate(585.64,1264.68) scale(1,1.032)" font-size="59.0" letter-spacing="0.000" stroke-width="1.0">C</text>
</g>
</svg>
</body>
</html>
